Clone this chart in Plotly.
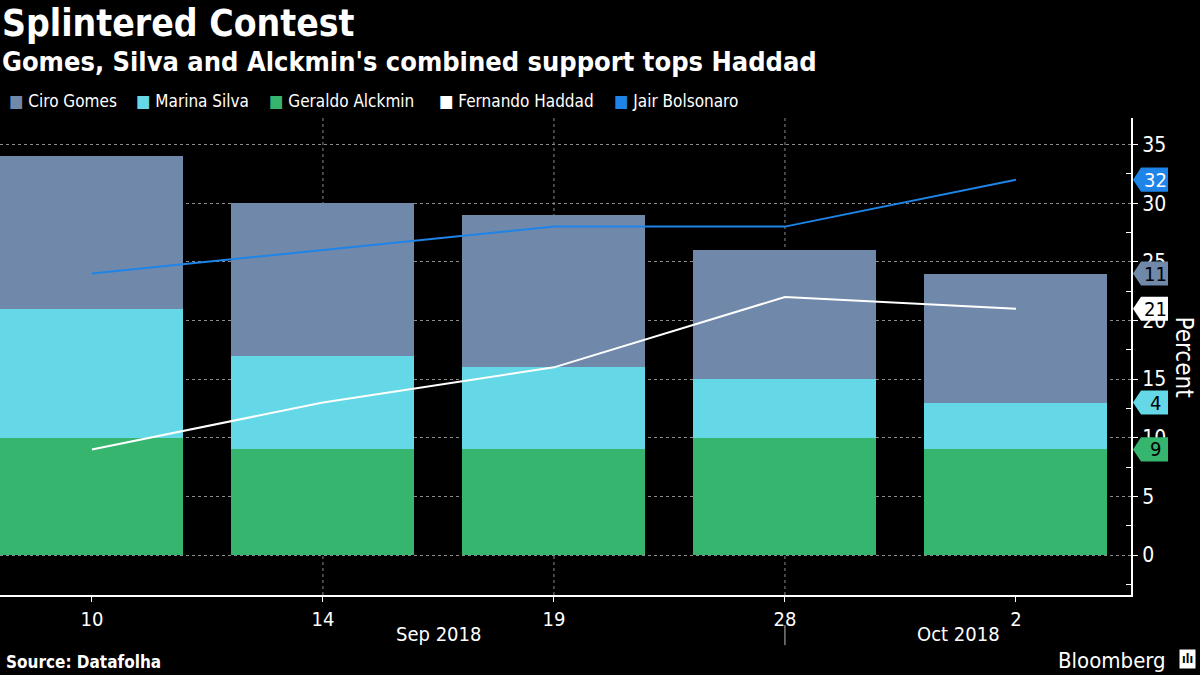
import plotly.graph_objects as go

dates = ["10", "14", "19", "28", "2"]
alckmin = [10, 9, 9, 10, 9]
silva = [11, 8, 7, 5, 4]
gomes = [13, 13, 13, 11, 11]
haddad = [9, 13, 16, 22, 21]
bolsonaro = [24, 26, 28, 28, 32]

names = ["Ciro Gomes", "Marina Silva", "Geraldo Alckmin", "Fernando Haddad", "Jair Bolsonaro"]
c_gomes = "#7089aa"
c_silva = "#64d8e6"
c_alck = "#35b56d"
c_hadd = "#ffffff"
c_bols = "#1e84e8"

FONT = "DejaVu Sans Condensed, Liberation Sans Narrow, Roboto Condensed, Noto Sans, sans-serif"

x = list(range(len(dates)))

fig = go.Figure()
fig.add_bar(x=x, y=alckmin, marker_color=c_alck, width=0.792, name=names[2])
fig.add_bar(x=x, y=silva, marker_color=c_silva, width=0.792, name=names[1])
fig.add_bar(x=x, y=gomes, marker_color=c_gomes, width=0.792, name=names[0])
fig.add_scatter(x=x, y=haddad, mode="lines", line=dict(color=c_hadd, width=2), name=names[3])
fig.add_scatter(x=x, y=bolsonaro, mode="lines", line=dict(color=c_bols, width=2), name=names[4])

fig.update_traces(marker_line_width=0, selector=dict(type="bar"))

# vertical gridlines at inner date ticks
for xi in x[1:-1]:
    fig.add_shape(type="line", xref="x", yref="paper", x0=xi, x1=xi, y0=0, y1=1,
                  line=dict(color="#8a8a8a", width=1, dash="dot"), layer="below")

# month separator
fig.add_shape(type="line", xref="x", yref="paper", x0=3, x1=3, y0=-0.063, y1=-0.105,
              line=dict(color="#bbbbbb", width=1))

# right-edge value tags
last = len(dates) - 1
tags = [
    (bolsonaro[last], str(bolsonaro[last]), c_bols, "#ffffff"),
    (alckmin[last] + silva[last] + gomes[last], str(gomes[last]), c_gomes, "#000000"),
    (haddad[last], str(haddad[last]), c_hadd, "#000000"),
    (alckmin[last] + silva[last], str(silva[last]), c_silva, "#000000"),
    (alckmin[last], str(alckmin[last]), c_alck, "#000000"),
]
W = 1131.0
xa, xb, xc = 1133 / W, 1141 / W, 1168 / W
h = 1.03
for yv, txt, bg, fg in tags:
    path = f"M {xa},{yv} L {xb},{yv + h} L {xc},{yv + h} L {xc},{yv - h} L {xb},{yv - h} Z"
    fig.add_shape(type="path", xref="paper", yref="y", path=path,
                  fillcolor=bg, line=dict(width=0), layer="above")
    fig.add_annotation(xref="paper", yref="y", x=1155 / W, y=yv, text=txt, showarrow=False,
                       font=dict(family=FONT, size=20, color=fg), xanchor="center", yanchor="middle")

# legend (manual)
leg_colors = [c_gomes, c_silva, c_alck, c_hadd, c_bols]
leg_x = [7, 134, 267, 437, 612]
for nm, col, lx in zip(names, leg_colors, leg_x):
    fig.add_annotation(xref="paper", yref="paper", x=lx / W, y=(595 - 101) / 477,
                       xanchor="left", yanchor="middle", showarrow=False,
                       text=f"<span style='color:{col}'>■</span> {nm}",
                       font=dict(family=FONT, size=17, color="#ffffff"))

# month labels
fig.add_annotation(xref="paper", yref="paper", x=438 / W, y=(595 - 634) / 477, text="Sep 2018",
                   showarrow=False, font=dict(family=FONT, size=20, color="#ffffff"),
                   xanchor="center", yanchor="middle")
fig.add_annotation(xref="paper", yref="paper", x=958 / W, y=(595 - 634) / 477, text="Oct 2018",
                   showarrow=False, font=dict(family=FONT, size=20, color="#ffffff"),
                   xanchor="center", yanchor="middle")

# axis title
fig.add_annotation(xref="paper", yref="paper", x=1184 / W, y=0.5, text="Percent", textangle=90,
                   showarrow=False, font=dict(family=FONT, size=24, color="#ffffff"),
                   xanchor="center", yanchor="middle")

# titles
fig.add_annotation(xref="paper", yref="paper", x=0, y=(595 - 24) / 477, text="<b>Splintered Contest</b>",
                   showarrow=False, font=dict(family=FONT, size=37, color="#ffffff"),
                   xanchor="left", yanchor="middle")
fig.add_annotation(xref="paper", yref="paper", x=0, y=(595 - 61) / 477,
                   text="<b>Gomes, Silva and Alckmin's combined support tops Haddad</b>",
                   showarrow=False, font=dict(family=FONT, size=27, color="#ffffff"),
                   xanchor="left", yanchor="middle")
fig.add_annotation(xref="paper", yref="paper", x=4 / W, y=(595 - 662) / 477,
                   text="<b>Source: Datafolha</b>", showarrow=False,
                   font=dict(family=FONT, size=17, color="#ffffff"), xanchor="left", yanchor="middle")
fig.add_annotation(xref="paper", yref="paper", x=1168 / W, y=(595 - 660) / 477,
                   text="Bloomberg", showarrow=False,
                   font=dict(family=FONT, size=22, color="#ffffff"), xanchor="right", yanchor="middle")
fig.add_annotation(xref="paper", yref="paper", x=1187 / W, y=(595 - 659) / 477,
                   text="<b>ılı</b>", showarrow=False, bgcolor="#ffffff", borderpad=2,
                   font=dict(family=FONT, size=12, color="#000000"), xanchor="center", yanchor="middle")

fig.update_layout(
    width=1200, height=675,
    margin=dict(l=0, r=69, t=118, b=80),
    paper_bgcolor="#000000", plot_bgcolor="#000000",
    barmode="stack", bargap=0.2,
    showlegend=False,
    hovermode=False,
    font=dict(family=FONT, color="#ffffff"),
    xaxis=dict(range=[-0.398, 4.498], tickvals=x, ticktext=dates, showgrid=False, zeroline=False,
               showline=True, linecolor="#ffffff", linewidth=2, ticks="outside", ticklen=5,
               tickcolor="#ffffff", tickfont=dict(family=FONT, size=20, color="#ffffff")),
    yaxis=dict(side="right", range=[-3.41, 37.26], tickvals=[0, 5, 10, 15, 20, 25, 30, 35],
               showgrid=True, gridcolor="#8a8a8a", griddash="dot", gridwidth=1, zeroline=False,
               showline=True, linecolor="#ffffff", linewidth=2, ticks="outside", ticklen=5,
               tickcolor="#ffffff", tickfont=dict(family=FONT, size=21, color="#ffffff"),
               minor=dict(tickvals=[-2.5, 2.5, 7.5, 12.5, 17.5, 22.5, 27.5, 32.5], ticks="inside",
                          ticklen=5, tickcolor="#ffffff", showgrid=False)),
)

fig.write_html("out.html")
